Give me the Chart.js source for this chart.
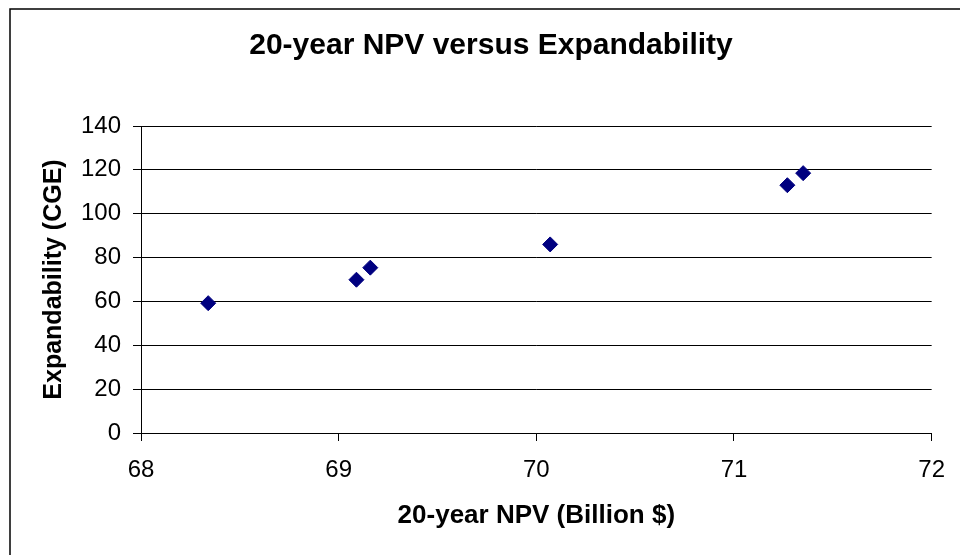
<!DOCTYPE html>
<html>
<head>
<meta charset="utf-8">
<script src="https://cdn.jsdelivr.net/npm/chart.js@4/dist/chart.umd.min.js"></script>
<style>
  html, body { margin: 0; padding: 0; background: #fff; }
  #wrap { width: 960px; height: 555px; position: relative; }
</style>
</head>
<body>
<div id="wrap"><canvas id="npv-chart" width="960" height="555"></canvas></div>
<script>
// values
const npvBillions = [68.34, 69.09, 69.16, 70.07, 71.27, 71.35];
const expandabilityCGE = [59.2, 69.9, 75.4, 86.0, 113.0, 118.5];
const xTicks = [68, 69, 70, 71, 72];
const yTicks = [0, 20, 40, 60, 80, 100, 120, 140];

const chartTitle = '20-year NPV versus Expandability';
const xTitle = '20-year NPV (Billion $)';
const yTitle = 'Expandability (CGE)';

const FONT = 'Arial, "Liberation Sans", sans-serif';

// outer frame like the spreadsheet chart border (right/bottom run off the page)
const framePlugin = {
  id: 'frame',
  beforeDraw: (chart) => {
    const ctx = chart.ctx;
    ctx.save();
    ctx.fillStyle = '#fff';
    ctx.fillRect(0, 0, chart.width, chart.height);
    ctx.strokeStyle = '#000';
    ctx.lineWidth = 1.5;
    ctx.strokeRect(10, 9, chart.width + 20, chart.height + 20);
    ctx.restore();
  }
};

const points = npvBillions.map((x, i) => ({ x, y: expandabilityCGE[i] }));

new Chart(document.getElementById('npv-chart'), {
  type: 'scatter',
  data: {
    datasets: [{
      label: 'Expandability',
      data: points,
      pointStyle: 'rectRot',
      pointRadius: 7.5,
      pointHoverRadius: 7.5,
      backgroundColor: '#000080',
      borderColor: '#000080',
      borderWidth: 1
    }]
  },
  options: {
    responsive: false,
    animation: false,
    events: [],
    layout: { padding: { top: 9, left: 30, right: 8, bottom: 0 } },
    plugins: {
      legend: { display: false },
      tooltip: { enabled: false },
      title: {
        display: true,
        text: chartTitle,
        color: '#000',
        font: { family: FONT, size: 30, weight: 'bold', lineHeight: 1.2 },
        padding: { top: 19, bottom: 62 }
      }
    },
    scales: {
      x: {
        type: 'linear',
        position: 'bottom',
        min: 68,
        max: 72,
        afterBuildTicks: (axis) => { axis.ticks = xTicks.map(v => ({ value: v })); },
        afterFit: (axis) => { axis.height = 122; },
        ticks: {
          color: '#000',
          padding: 15,
          font: { family: FONT, size: 24 },
          callback: (v) => v
        },
        grid: {
          drawOnChartArea: false,
          drawTicks: true,
          tickLength: 8,
          color: '#000',
          lineWidth: 1
        },
        border: { display: true, color: '#000', width: 1 },
        title: {
          display: true,
          text: xTitle,
          color: '#000',
          font: { family: FONT, size: 26, weight: 'bold', lineHeight: 1.2 },
          padding: { top: 0, bottom: 24 }
        }
      },
      y: {
        type: 'linear',
        position: 'left',
        min: 0,
        max: 140,
        afterBuildTicks: (axis) => { axis.ticks = yTicks.map(v => ({ value: v })); },
        afterFit: (axis) => { axis.width = 111; },
        ticks: {
          color: '#000',
          padding: 12,
          font: { family: FONT, size: 24 },
          callback: (v) => v
        },
        grid: {
          drawOnChartArea: true,
          drawTicks: true,
          tickLength: 8,
          color: '#000',
          lineWidth: 1
        },
        border: { display: true, color: '#000', width: 1 },
        title: {
          display: true,
          text: yTitle,
          color: '#000',
          font: { family: FONT, size: 25, weight: 'bold', lineHeight: 1.2 },
          padding: { top: 9, bottom: 0 }
        }
      },
      // empty spacer on the right so the plot ends where the reference does
      spacer: {
        type: 'linear',
        position: 'right',
        display: true,
        afterFit: (axis) => { axis.width = 20; },
        ticks: { display: false },
        grid: { display: false, drawTicks: false },
        border: { display: false }
      }
    }
  },
  plugins: [framePlugin]
});
</script>
</body>
</html>
